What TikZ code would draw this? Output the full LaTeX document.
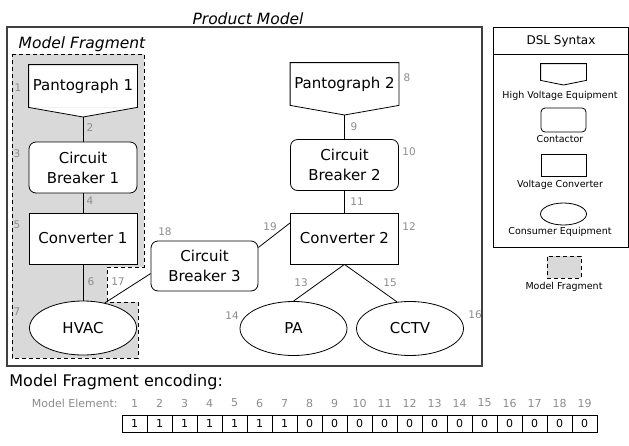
\documentclass[tikz,border=0pt]{standalone}
\usepackage{fontspec}
\setmainfont{DejaVu Sans}
\usetikzlibrary{shapes.geometric, positioning}
\definecolor{fraggray}{RGB}{217,217,217}
\definecolor{numgray}{RGB}{140,140,140}

\begin{document}
\begin{tikzpicture}[x=1pt, y=-1pt, line width=0.8pt,
    unit/.style={draw, fill=white, minimum width=108pt, minimum height=51pt, inner sep=1pt, align=center, font=\fontsize{15}{20}\selectfont},
    breaker/.style={unit, rounded corners=7pt},
    converter/.style={unit},
    consumer/.style={unit, ellipse, minimum width=107pt, minimum height=54pt},
    hvequip/.style={unit, draw=none, minimum height=42pt},
    num/.style={text=numgray, font=\fontsize{10.5}{12}\selectfont, inner sep=0pt},
    legend/.style={draw, fill=white, minimum width=45pt, minimum height=23pt, inner sep=0pt},
    legtext/.style={font=\fontsize{9.5}{11}\selectfont, inner sep=0pt},
    cell/.style={draw, minimum width=25pt, minimum height=17pt, inner sep=0pt, font=\fontsize{11}{12}\selectfont},
    fragment/.style={draw, dash pattern=on 4pt off 3pt, fill=fraggray, line width=1pt},
    title/.style={font=\fontsize{15.5}{18}\selectfont\itshape, inner sep=0pt}]
    \useasboundingbox (0,0) rectangle (629,445);

    % product model frame
    \node[title] (pmtitle) at (248,19) {Product Model};
    \draw[black!75, line width=1.2pt] (7,27) rectangle (482,366);

    % model fragment region
    \draw[fragment] (12,54) -- (144,54) -- (144,267) -- (107,267) -- (107,302)
        -- (138,302) -- (138,358) -- (12,358) -- cycle;
    \node[title] (mftitle) at (82,44) {Model Fragment};

    % left chain
    \node[hvequip] (p1) at (83,86) {Pantograph 1};
    \coordinate (p1tip) at (83,117);
    \fill[white] (p1.south west) -- (p1tip) -- (p1.south east) -- cycle;
    \draw (p1.south west) -- (p1.north west) -- (p1.north east) -- (p1.south east) -- (p1tip) -- cycle;
    \node[breaker] (cb1) at (83,167.5) {Circuit\\Breaker 1};
    \node[converter] (cv1) at (83,238.5) {Converter 1};
    \node[consumer] (hvac) at (83,328) {HVAC};

    % right chain
    \node[hvequip] (p2) at (344.5,84) {Pantograph 2};
    \coordinate (p2tip) at (344.5,115);
    \fill[white] (p2.south west) -- (p2tip) -- (p2.south east) -- cycle;
    \draw (p2.south west) -- (p2.north west) -- (p2.north east) -- (p2.south east) -- (p2tip) -- cycle;
    \node[breaker] (cb2) at (344.5,165) {Circuit\\Breaker 2};
    \node[converter] (cv2) at (344.5,238.5) {Converter 2};
    \node[consumer] (pa) at (293.5,328.5) {PA};
    \node[consumer] (cctv) at (410,328.5) {CCTV};

    \node[breaker, minimum width=107pt, minimum height=50pt] (cb3) at (204.5,266) {Circuit\\Breaker 3};

    % connections
    \draw (p1tip) -- (cb1.north);
    \draw (cb1.south) -- (cv1.north);
    \draw (cv1.south) -- (hvac.north);
    \draw (p2tip) -- (cb2.north);
    \draw (cb2.south) -- (cv2.north);
    \draw (cv2.south) -- (pa.north);
    \draw (cv2.south) -- (cctv.116);
    \draw (cb3.188) -- (hvac.49);
    \draw (cb3.19) -- (cv2.164);

    % element numbers
    \foreach \t/\x/\y in {1/18/88, 2/90/128, 3/17/154, 4/90/201, 5/17/225, 6/91/282,
        7/17/312, 8/407/78, 9/354/127, 10/409/152, 11/357/202, 12/409/227,
        13/301/283, 14/232/316, 15/390/283, 16/475/315, 17/118/282, 18/165/232, 19/270/227}
        \node[num] (n\t) at (\x,\y) {\t};

    % DSL syntax legend
    \draw (493,27) rectangle (628,247);
    \draw (493,54) -- (628,54);
    \node[font=\fontsize{12}{14}\selectfont] (dsl) at (561,41) {DSL Syntax};
    \node[legend, draw=none, minimum height=16pt] (lhv) at (563.5,72) {};
    \coordinate (lhvtip) at (563.5,85);
    \draw (lhv.south west) -- (lhv.north west) -- (lhv.north east) -- (lhv.south east) -- (lhvtip) -- cycle;
    \node[legtext] (lhvt) at (560,96) {High Voltage Equipment};
    \node[legend, rounded corners=4pt, minimum height=24pt] (lcb) at (563.5,120) {};
    \node[legtext] (lcbt) at (560,139) {Contactor};
    \node[legend, minimum height=22pt] (lcv) at (563.5,165) {};
    \node[legtext] (lcvt) at (560,185) {Voltage Converter};
    \node[legend, ellipse, minimum width=46pt, minimum height=22pt] (lce) at (563.5,214) {};
    \node[legtext] (lcet) at (560,232) {Consumer Equipment};
    \node[fragment, minimum width=34pt, minimum height=22pt, inner sep=0pt] (lmf) at (564,267) {};
    \node[legtext] (lmft) at (564,287) {Model Fragment};

    % encoding
    \node[anchor=west, font=\fontsize{16}{18}\selectfont, inner sep=0pt] (enc) at (9,382) {Model Fragment encoding:};
    \node[num, anchor=east, font=\fontsize{11}{12}\selectfont] (elem) at (118,403) {Model Element:};
    \foreach \v [count=\i] in {1,1,1,1,1,1,1,0,0,0,0,0,0,0,0,0,0,0,0} {
        \node[cell] (c\i) at (109.5+25*\i,423.5) {\v};
        \node[num, font=\fontsize{11}{12}\selectfont] (e\i) at (109.5+25*\i,403) {\i};
    }
\end{tikzpicture}
\end{document}
